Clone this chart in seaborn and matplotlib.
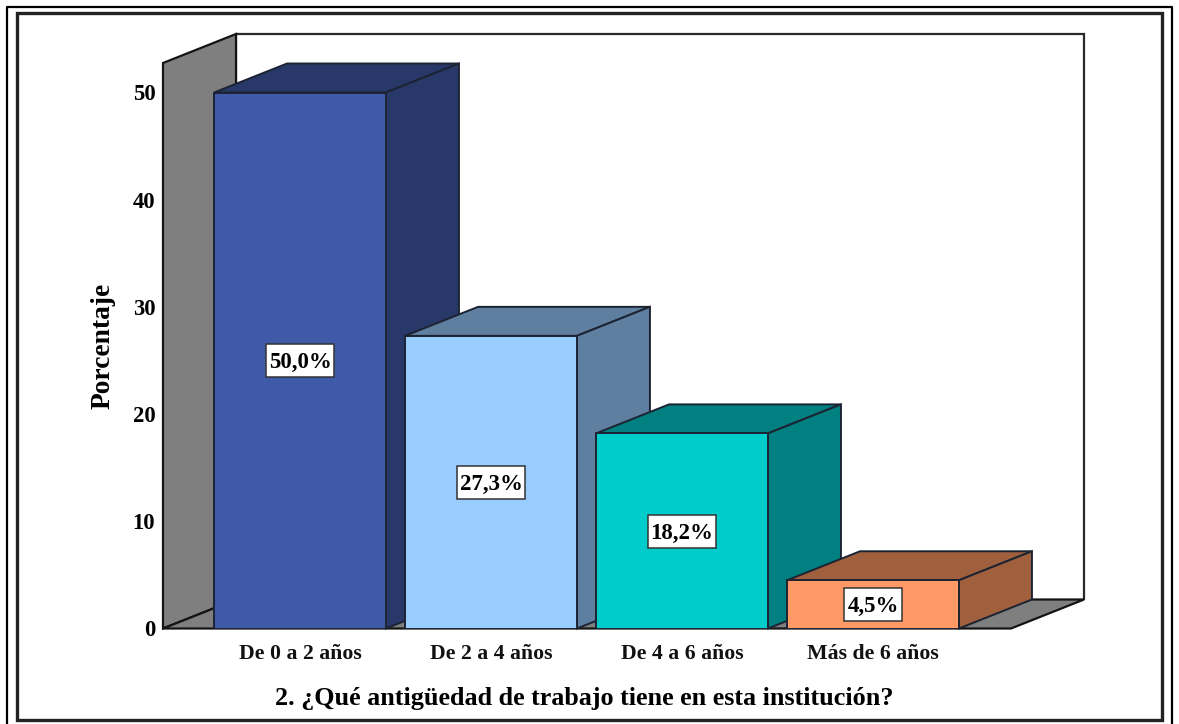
import matplotlib
matplotlib.use("Agg")
import matplotlib.pyplot as plt
import seaborn as sns
from matplotlib.lines import Line2D
from matplotlib.patches import Polygon, Rectangle
from matplotlib.path import Path

categories = ["De 0 a 2 años", "De 2 a 4 años", "De 4 a 6 años", "Más de 6 años"]
percentages = [50.0, 27.3, 18.2, 4.5]
front_colors = ["#3F5AA8", "#99CCFF", "#00CCCC", "#FF9966"]
side_colors = ["#283868", "#5F7FA0", "#008080", "#A0603E"]
top_colors = ["#283868", "#5F7FA0", "#008080", "#A0603E"]
y_ticks = [0, 10, 20, 30, 40, 50]
y_title = "Porcentaje"
x_title = "2. ¿Qué antigüedad de trabajo tiene en esta institución?"

WIDTH, HEIGHT = 1179, 724
WALL = "#7f7f7f"


def value_box(x0, y0, w, h, mutation_size):
    """Snug at the sides, tall, and centred a little above the text (sizes in pixels)."""
    cy = y0 + h / 2 + 2
    xa, xb = x0 - 3, x0 + w + 3
    ya, yb = cy - 16.5, cy + 16.5
    return Path([(xa, ya), (xb, ya), (xb, yb), (xa, yb), (xa, ya)], closed=True)


sns.set_theme(style="white")
plt.rcParams["font.family"] = ["Liberation Serif", "DejaVu Serif"]

fig = plt.figure(figsize=(WIDTH / 100, HEIGHT / 100), dpi=100, facecolor="white")

# Plot box of the front plane, in figure fractions
left, right, top, bottom = 163, 1011, 63, 628.5
ax = fig.add_axes([left / WIDTH, 1 - bottom / HEIGHT,
                   (right - left) / WIDTH, (bottom - top) / HEIGHT])
ax.set_facecolor("none")

sns.barplot(x=categories, y=percentages, hue=categories, palette=front_colors,
            width=0.9, legend=False, saturation=1, ax=ax,
            edgecolor="#1c2333", linewidth=1.4, zorder=5)

px_per_x = 191.0
px_per_y = 10.72
ax.set_xlim((left - 300) / px_per_x, (right - 300) / px_per_x)
ax.set_ylim(0, (bottom - top) / px_per_y)

# Oblique depth of the extruded look, expressed in data units
depth_x = 73 / px_per_x
depth_y = 29 / px_per_y
x0, x1 = ax.get_xlim()
y1 = ax.get_ylim()[1]

# Back wall, side wall and floor
ax.add_patch(Polygon([(x0 + depth_x, depth_y), (x0 + depth_x, y1 + depth_y),
                      (x1 + depth_x, y1 + depth_y), (x1 + depth_x, depth_y)],
                     closed=False, facecolor="white", edgecolor="#2a2a2a",
                     linewidth=1.6, clip_on=False, zorder=1))
ax.add_patch(Polygon([(x0, 0), (x0, y1), (x0 + depth_x, y1 + depth_y), (x0 + depth_x, depth_y)],
                     facecolor=WALL, edgecolor="#141414", linewidth=1.6,
                     clip_on=False, zorder=2))
ax.add_patch(Polygon([(x0, 0), (x0 + depth_x, depth_y), (x1 + depth_x, depth_y), (x1, 0)],
                     facecolor=WALL, edgecolor="#141414", linewidth=1.6,
                     clip_on=False, zorder=2))

# Extrude every bar and put its value box on the front face
for i, (bar, value) in enumerate(zip(ax.patches[:len(percentages)], percentages)):
    xa = bar.get_x()
    xb = xa + bar.get_width()
    h = bar.get_height()
    z = 3 + i
    bar.set_zorder(z + 0.5)
    ax.add_patch(Polygon([(xa, h), (xa + depth_x, h + depth_y), (xb + depth_x, h + depth_y), (xb, h)],
                         facecolor=top_colors[i], edgecolor="#1c2333", linewidth=1.4,
                         clip_on=False, zorder=z))
    ax.add_patch(Polygon([(xb, 0), (xb, h), (xb + depth_x, h + depth_y), (xb + depth_x, depth_y)],
                         facecolor=side_colors[i], edgecolor="#1c2333", linewidth=1.4,
                         clip_on=False, zorder=z))
    ax.annotate(f"{value:.1f}%".replace(".", ","), xy=((xa + xb) / 2, h / 2),
                xytext=(0, -1.5), textcoords="offset points",
                ha="center", va="center", fontsize=16.5, fontweight="bold", color="black",
                bbox=dict(boxstyle=value_box, facecolor="white",
                          edgecolor="#333333", linewidth=1.1),
                zorder=20)

ax.set_yticks(y_ticks)
ax.set_yticklabels([str(t) for t in y_ticks], fontsize=16.3, fontweight="bold", color="black")
ax.set_xticks(range(len(categories)))
ax.set_xticklabels(categories, fontsize=15.7, fontweight="bold", color="#111111")
ax.tick_params(axis="both", length=0)
ax.tick_params(axis="y", pad=5.5)
ax.tick_params(axis="x", pad=11.5)
ax.set_xlabel("")
ax.set_ylabel("")
sns.despine(ax=ax, left=True, bottom=True, top=True, right=True)

fig.text(103 / WIDTH, 1 - 346 / HEIGHT, y_title, rotation=90, ha="center", va="center",
         fontsize=19.8, fontweight="bold", color="black")
fig.text(584 / WIDTH, 1 - 698 / HEIGHT, x_title, ha="center", va="center",
         fontsize=18.8, fontweight="bold", color="black")

# Double border round the whole chart; the outer one runs off the lower edge
fig.add_artist(Rectangle((17 / WIDTH, 1 - 720 / HEIGHT), (1162 - 17) / WIDTH, (720 - 13) / HEIGHT,
                         transform=fig.transFigure, fill=False, edgecolor="#222222", linewidth=2.4))
fig.add_artist(Line2D([6.5 / WIDTH, 6.5 / WIDTH, 1172 / WIDTH, 1172 / WIDTH],
                      [0, 1 - 6.5 / HEIGHT, 1 - 6.5 / HEIGHT, 0],
                      transform=fig.transFigure, color="black", linewidth=1.6))

fig.savefig("out.png", dpi=100)
